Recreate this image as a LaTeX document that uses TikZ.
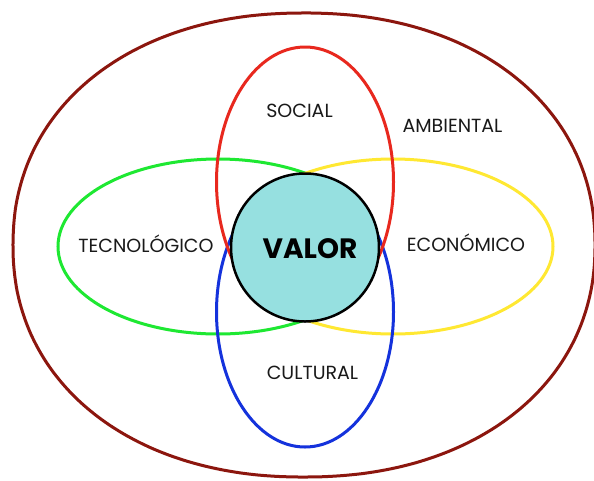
\documentclass[tikz,border=0pt]{standalone}
\usepackage{fontspec}
\setmainfont{Poppins}
\definecolor{outerc}{RGB}{140,22,14}
\definecolor{redc}{RGB}{232,40,30}
\definecolor{greenc}{RGB}{30,232,50}
\definecolor{yellowc}{RGB}{255,232,50}
\definecolor{bluec}{RGB}{20,50,220}
\definecolor{cyanc}{RGB}{150,224,224}
\definecolor{txtc}{RGB}{25,25,25}
\begin{document}
\begin{tikzpicture}[x=1pt,y=-1pt,
  ring/.style={line width=3pt},
  lbl/.style={font=\fontsize{19}{19}\selectfont, text=txtc, inner sep=0pt, anchor=base}]
\useasboundingbox (0,0) rectangle (594,480);
\fill[white] (0,0) rectangle (594,480);
% outer boundary
\draw[ring, outerc] plot[domain=0.5:357.5, samples=100, smooth cycle]
  ({304+291*sign(cos(\x))*pow(abs(cos(\x)),0.93)}, {245+232*sign(sin(\x))*pow(abs(sin(\x)),0.93)});
% centres
\coordinate (tc) at (218,246.5);
\coordinate (ec) at (393,246.5);
\coordinate (sc) at (305,182);
\coordinate (cc) at (305,312);
\draw[ring, greenc] (tc) ellipse [x radius=160pt, y radius=87.5pt];
\draw[ring, yellowc] (ec) ellipse [x radius=160pt, y radius=87.5pt];
\draw[ring, bluec] (cc) ellipse [x radius=88.5pt, y radius=135pt];
\draw[ring, redc] (sc) ellipse [x radius=88.5pt, y radius=135pt];
\node[circle, draw=black, line width=2.5pt, fill=cyanc, minimum size=148pt, inner sep=0pt] (core) at (305,247.5) {};
\node[lbl, font=\fontsize{28}{28}\selectfont\bfseries, text=black] (valor) at (310,258) {VALOR};
\node[lbl] (social) at (299.5,117) {SOCIAL};
\node[lbl] (amb) at (452.5,132) {AMBIENTAL};
\node[lbl] (tec) at (146,252) {TECNOLÓGICO};
\node[lbl] (eco) at (466,251) {ECONÓMICO};
\node[lbl] (cul) at (312.5,379) {CULTURAL};
\end{tikzpicture}
\end{document}
